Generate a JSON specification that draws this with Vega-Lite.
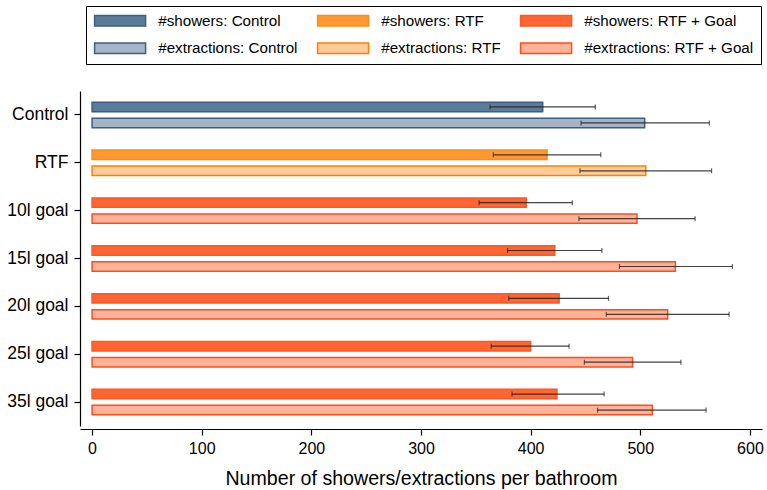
{
  "$schema": "https://vega.github.io/schema/vega-lite/v6.json",
  "width": 682,
  "height": 357,
  "autosize": {"type": "none"},
  "padding": {"left": 80, "top": 72, "right": 5, "bottom": 61},
  "background": "white",
  "config": {
    "view": {"stroke": null},
    "font": "Liberation Sans",
    "axis": {"domainColor": "black", "tickColor": "black", "labelColor": "black", "titleColor": "black", "grid": false, "labelFont": "Liberation Sans", "titleFont": "Liberation Sans", "domainWidth": 1.2, "tickWidth": 1.2}
  },
  "data": {
    "values": [
      {"group": "Control", "measure": "showers", "series": "#showers: Control", "value": 411, "lo": 363, "hi": 459},
      {"group": "Control", "measure": "extractions", "series": "#extractions: Control", "value": 504, "lo": 446, "hi": 563},
      {"group": "RTF", "measure": "showers", "series": "#showers: RTF", "value": 415, "lo": 366, "hi": 464},
      {"group": "RTF", "measure": "extractions", "series": "#extractions: RTF", "value": 505, "lo": 445, "hi": 565},
      {"group": "10l goal", "measure": "showers", "series": "#showers: RTF + Goal", "value": 396, "lo": 353, "hi": 438},
      {"group": "10l goal", "measure": "extractions", "series": "#extractions: RTF + Goal", "value": 497, "lo": 444, "hi": 550},
      {"group": "15l goal", "measure": "showers", "series": "#showers: RTF + Goal", "value": 422, "lo": 379, "hi": 465},
      {"group": "15l goal", "measure": "extractions", "series": "#extractions: RTF + Goal", "value": 532, "lo": 481, "hi": 584},
      {"group": "20l goal", "measure": "showers", "series": "#showers: RTF + Goal", "value": 426, "lo": 380, "hi": 471},
      {"group": "20l goal", "measure": "extractions", "series": "#extractions: RTF + Goal", "value": 525, "lo": 469, "hi": 581},
      {"group": "25l goal", "measure": "showers", "series": "#showers: RTF + Goal", "value": 400, "lo": 364, "hi": 435},
      {"group": "25l goal", "measure": "extractions", "series": "#extractions: RTF + Goal", "value": 493, "lo": 449, "hi": 537},
      {"group": "35l goal", "measure": "showers", "series": "#showers: RTF + Goal", "value": 424, "lo": 383, "hi": 467},
      {"group": "35l goal", "measure": "extractions", "series": "#extractions: RTF + Goal", "value": 511, "lo": 461, "hi": 560}
    ]
  },
  "encoding": {
    "y": {
      "field": "group", "type": "nominal",
      "scale": {"domain": ["Control", "RTF", "10l goal", "15l goal", "20l goal", "25l goal", "35l goal"], "range": [19, 354], "paddingInner": 0, "paddingOuter": 0},
      "axis": {"title": null, "labelFontSize": 17.5, "labelPadding": 6, "tickSize": 6, "labelAngle": 0}
    },
    "yOffset": {
      "field": "measure", "type": "nominal",
      "scale": {"domain": ["showers", "extractions"], "paddingInner": 0.41, "paddingOuter": 0.7}
    }
  },
  "layer": [
    {
      "mark": {"type": "bar", "strokeWidth": 1.5},
      "encoding": {
        "x": {
          "field": "value", "type": "quantitative",
          "scale": {"domain": [-11, 611], "nice": false, "zero": false},
          "axis": {"values": [0, 100, 200, 300, 400, 500, 600], "title": "Number of showers/extractions per bathroom", "titleFontSize": 19.6, "titleFontWeight": "normal", "titlePadding": 13, "labelFontSize": 16, "labelPadding": 5, "tickSize": 6}
        },
        "fill": {
          "field": "series", "type": "nominal",
          "scale": {
            "domain": ["#showers: Control", "#showers: RTF", "#showers: RTF + Goal", "#extractions: Control", "#extractions: RTF", "#extractions: RTF + Goal"],
            "range": ["#5b7b9b", "#ff9933", "#ff6633", "#a4b5c8", "#ffcc99", "#ffb399"]
          },
          "legend": {"title": null, "orient": "none", "legendX": 6, "legendY": -66, "columns": 3, "direction": "horizontal", "columnPadding": 16, "rowPadding": 10.6, "padding": 7, "strokeColor": "black", "symbolType": "M-1,-0.87H7.5V0.87H-1Z", "symbolSize": 144, "symbolStrokeWidth": 1.5, "labelOffset": 50, "labelFontSize": 15.2, "labelColor": "black", "labelFont": "Liberation Sans", "labelLimit": 300}
        },
        "stroke": {
          "field": "series", "type": "nominal",
          "scale": {
            "domain": ["#showers: Control", "#showers: RTF", "#showers: RTF + Goal", "#extractions: Control", "#extractions: RTF", "#extractions: RTF + Goal"],
            "range": ["#3d5f80", "#ff8c1a", "#ff5722", "#3d5f80", "#ff8000", "#ff4d1a"]
          },
          "legend": {"title": null, "orient": "none", "legendX": 6, "legendY": -66, "columns": 3, "direction": "horizontal", "columnPadding": 16, "rowPadding": 10.6, "padding": 7, "strokeColor": "black", "symbolType": "M-1,-0.87H7.5V0.87H-1Z", "symbolSize": 144, "symbolStrokeWidth": 1.5, "labelOffset": 50, "labelFontSize": 15.2, "labelColor": "black", "labelFont": "Liberation Sans", "labelLimit": 300}
        }
      }
    },
    {
      "mark": {"type": "rule", "color": "#222222", "strokeWidth": 1.2, "opacity": 0.85},
      "encoding": {
        "x": {"field": "lo", "type": "quantitative"},
        "x2": {"field": "hi"}
      }
    },
    {
      "mark": {"type": "tick", "color": "#222222", "thickness": 1.2, "size": 5},
      "encoding": {
        "x": {"field": "lo", "type": "quantitative"}
      }
    },
    {
      "mark": {"type": "tick", "color": "#222222", "thickness": 1.2, "size": 5},
      "encoding": {
        "x": {"field": "hi", "type": "quantitative"}
      }
    }
  ]
}
